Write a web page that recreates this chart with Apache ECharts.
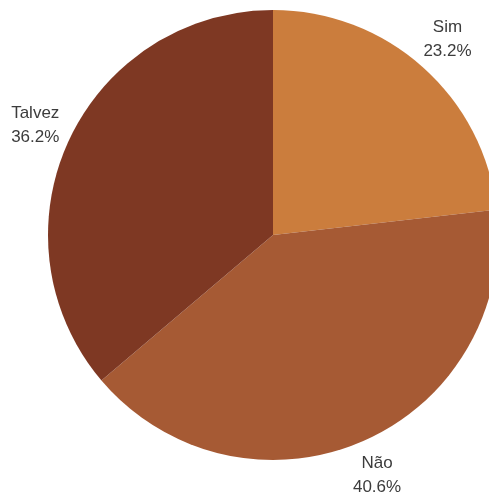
<!DOCTYPE html>
<html>
<head>
<meta charset="utf-8">
<script src="https://cdn.jsdelivr.net/npm/echarts@6/dist/echarts.min.js"></script>
<style>
  html, body { margin: 0; padding: 0; background: #fff; }
  #chart { width: 489px; height: 497px; }
</style>
</head>
<body>
<div id="chart"></div>
<script>
// Respostas (percentual)
const categories = ['Sim', 'Não', 'Talvez'];
const values = [23.2, 40.6, 36.2];
const colors = ['#CB7D3D', '#A65A34', '#7E3823'];

const sliceData = categories.map((name, i) => ({
  name: name,
  value: values[i],
  itemStyle: { color: colors[i] }
}));

const chart = echarts.init(document.getElementById('chart'));
chart.setOption({
  animation: false,
  series: [
    {
      type: 'pie',
      center: [273, 235],
      radius: [0, 225],
      startAngle: 90,
      clockwise: true,
      silent: true,
      label: { show: false },
      labelLine: { show: false },
      data: sliceData
    },
    {
      // transparent ring that carries the centred labels just outside the pie
      type: 'pie',
      center: [273, 235],
      radius: [248, 270],
      startAngle: 90,
      clockwise: true,
      silent: true,
      itemStyle: { color: 'rgba(0,0,0,0)' },
      label: {
        show: true,
        position: 'inside',
        rotate: 0,
        formatter: p => p.name + '\n' + p.value.toFixed(1) + '%',
        color: '#3c3c3c',
        fontFamily: 'Liberation Sans, Arial, sans-serif',
        fontSize: 17,
        lineHeight: 24,
        align: 'center'
      },
      labelLine: { show: false },
      data: sliceData.map(d => ({ name: d.name, value: d.value }))
    }
  ]
});
</script>
</body>
</html>
